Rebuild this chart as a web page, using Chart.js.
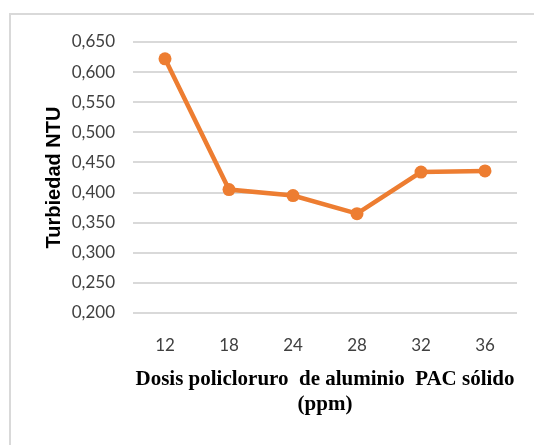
<!DOCTYPE html>
<html>
<head>
<meta charset="utf-8">
<script src="https://cdn.jsdelivr.net/npm/chart.js@4"></script>
<style>
  html, body { margin: 0; padding: 0; background: #fff; overflow: hidden; }
  #wrap { position: relative; width: 534px; height: 445px; overflow: hidden; }
  #frame { position: absolute; left: 9px; top: 13px; width: 600px; height: 500px;
           border: 2px solid #d9d9d9; box-sizing: border-box; }
  canvas { position: absolute; left: 0; top: 0; }
</style>
</head>
<body>
<div id="wrap">
  <div id="frame"></div>
  <canvas id="c" width="534" height="445"></canvas>
</div>
<script>
// PAC dose (ppm) and measured turbidity (NTU)
const dosis = ['12', '18', '24', '28', '32', '36'];
const turbiedad = [0.622, 0.405, 0.395, 0.365, 0.434, 0.436];
const yMin = 0.2, yMax = 0.65, yStep = 0.05;
const yTitle = 'Turbiedad NTU';
const xTitle = ['Dosis policloruro  de aluminio  PAC sólido', '(ppm)'];

const orange = '#ed7d31';

new Chart(document.getElementById('c'), {
  type: 'line',
  data: {
    labels: dosis,
    datasets: [{
      data: turbiedad,
      borderColor: orange,
      backgroundColor: orange,
      borderWidth: 4.5,
      pointRadius: 6.5,
      pointBorderWidth: 0,
      pointBackgroundColor: orange,
      tension: 0
    }]
  },
  options: {
    responsive: false,
    animation: false,
    devicePixelRatio: 1,
    layout: { padding: { top: 42, right: 17, left: 42, bottom: 28 } },
    plugins: { legend: { display: false }, tooltip: { enabled: false } },
    scales: {
      x: {
        offset: true,
        grid: { display: false },
        border: { display: false },
        ticks: { color: '#404040', font: { family: 'Lato', size: 17 }, padding: 14 },
        title: {
          display: true,
          text: xTitle,
          color: '#000',
          font: { family: 'Liberation Serif', size: 21, weight: 'bold', lineHeight: 1.2 },
          padding: { top: 0, bottom: 0 }
        },
        afterFit: s => { s.height = 445 - 313 - 28; }
      },
      y: {
        min: yMin, max: yMax,
        grid: { color: '#d9d9d9', lineWidth: 2, drawTicks: false },
        border: { display: false },
        ticks: {
          stepSize: yStep,
          color: '#404040',
          font: { family: 'Lato', size: 17 },
          padding: 18,
          callback: v => Number(v).toFixed(3).replace('.', ',')
        },
        title: {
          display: true,
          text: yTitle,
          color: '#000',
          font: { family: 'Liberation Sans', size: 20, weight: 'bold' },
          padding: { top: 0, bottom: 4 }
        },
        afterFit: s => { s.width = 133 - 42; }
      }
    }
  }
});
</script>
</body>
</html>
